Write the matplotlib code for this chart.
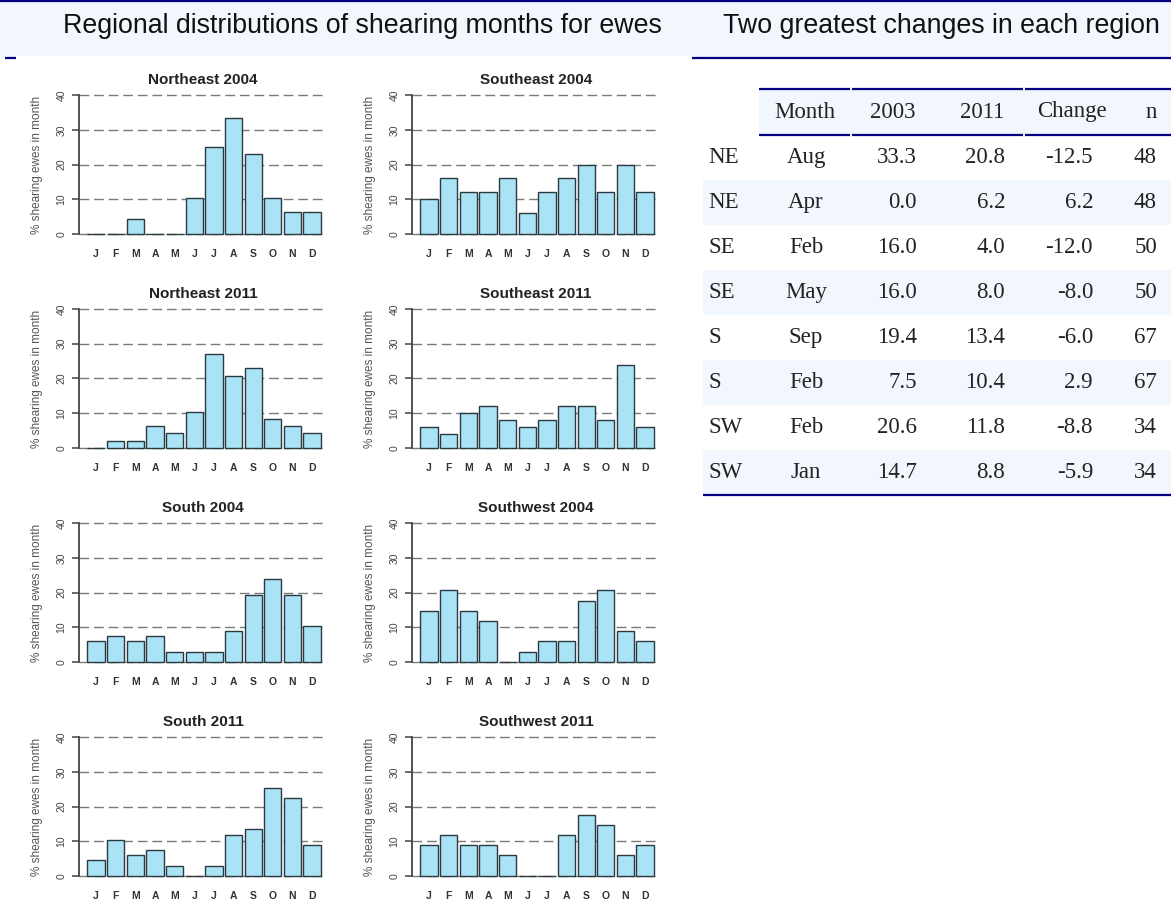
import matplotlib
matplotlib.use('Agg')
import matplotlib.pyplot as plt
from matplotlib.patches import Rectangle

# Data
month_letters = ['J', 'F', 'M', 'A', 'M', 'J', 'J', 'A', 'S', 'O', 'N', 'D']

northeast_2004 = [0, 0, 4.2, 0, 0, 10.4, 25.0, 33.3, 22.9, 10.4, 6.2, 6.2]
southeast_2004 = [10, 16, 12, 12, 16, 6, 12, 16, 20, 12, 20, 12]
northeast_2011 = [0, 2.1, 2.1, 6.2, 4.2, 10.4, 27.1, 20.8, 22.9, 8.3, 6.2, 4.2]
southeast_2011 = [6, 4, 10, 12, 8, 6, 8, 12, 12, 8, 24, 6]
south_2004 = [6.0, 7.5, 6.0, 7.5, 3.0, 3.0, 3.0, 9.0, 19.4, 23.9, 19.4, 10.4]
southwest_2004 = [14.7, 20.6, 14.7, 11.8, 0, 2.9, 5.9, 5.9, 17.6, 20.6, 8.8, 5.9]
south_2011 = [4.5, 10.4, 6.0, 7.5, 3.0, 0, 3.0, 11.9, 13.4, 25.4, 22.4, 9.0]
southwest_2011 = [8.8, 11.8, 8.8, 8.8, 5.9, 0, 0, 11.8, 17.6, 14.7, 5.9, 8.8]

panel_titles = ['Northeast 2004', 'Southeast 2004',
                'Northeast 2011', 'Southeast 2011',
                'South 2004', 'Southwest 2004',
                'South 2011', 'Southwest 2011']
panel_values = [northeast_2004, southeast_2004,
                northeast_2011, southeast_2011,
                south_2004, southwest_2004,
                south_2011, southwest_2011]
y_ticks = [0, 10, 20, 30, 40]

table_cols = ['Month', '2003', '2011', 'Change', 'n']
tbl_region = ['NE', 'NE', 'SE', 'SE', 'S', 'S', 'SW', 'SW']
tbl_month = ['Aug', 'Apr', 'Feb', 'May', 'Sep', 'Feb', 'Feb', 'Jan']
tbl_2003 = [33.3, 0.0, 16.0, 16.0, 19.4, 7.5, 20.6, 14.7]
tbl_2011 = [20.8, 6.2, 4.0, 8.0, 13.4, 10.4, 11.8, 8.8]
tbl_change = [-12.5, 6.2, -12.0, -8.0, -6.0, 2.9, -8.8, -5.9]
tbl_n = [48, 48, 50, 50, 67, 67, 34, 34]

W, H = 1171, 909
navy = '#000080'
band = '#f2f6fd'
bar_color = '#aae3f5'
sans = 'Liberation Sans'
serif = 'Liberation Serif'

fig = plt.figure(figsize=(W / 100, H / 100), dpi=100)

# page layer in pixel coordinates
bg = fig.add_axes([0, 0, 1, 1])
bg.set_xlim(0, W)
bg.set_ylim(H, 0)
bg.axis('off')

# header bands and rules
bg.add_patch(Rectangle((0, 1), W, 57, facecolor=band, edgecolor='none', zorder=1))
bg.plot([0, W], [1, 1], color=navy, lw=1.6, solid_capstyle='butt', zorder=2)
bg.plot([5, W], [58, 58], color=navy, lw=1.6, solid_capstyle='butt', zorder=2)
# white chart picture sits over the left rule
bg.add_patch(Rectangle((16, 56), 676, H - 56, facecolor='white',
                       edgecolor='none', zorder=3))

bg.text(362, 33, 'Regional distributions of shearing months for ewes',
        ha='center', va='baseline', fontsize=19.3, family=sans, color='#111')
bg.text(941, 33, 'Two greatest changes in each region',
        ha='center', va='baseline', fontsize=19.3, family=sans, color='#111')

# table
row_h = 45
head_top, head_bot = 89, 135
bg.add_patch(Rectangle((759, head_top), W - 759, head_bot - head_top,
                       facecolor=band, edgecolor='none', zorder=1))
for x0, x1 in [(759, 850), (852, 1023), (1025, W)]:
    bg.plot([x0, x1], [head_top, head_top], color=navy, lw=1.6, solid_capstyle='butt')
    bg.plot([x0, x1], [head_bot, head_bot], color=navy, lw=1.6, solid_capstyle='butt')

head_x = [805, 893, 982, 1072, 1151]
for label, x in zip(table_cols, head_x):
    bg.text(x, 112, label, ha='center', va='center', fontsize=16.5,
            family=serif, color='#222')

for i in range(len(tbl_region)):
    top = head_bot + i * row_h
    yc = top + row_h / 2
    if i % 2 == 1:
        bg.add_patch(Rectangle((703, top), W - 703, row_h,
                               facecolor=band, edgecolor='none', zorder=4))
    kw = dict(va='center', fontsize=16.5, family=serif, color='#222', zorder=5)
    bg.text(708, yc, tbl_region[i], ha='left', **kw)
    bg.text(806, yc, tbl_month[i], ha='center', **kw)
    bg.text(917, yc, f'{tbl_2003[i]:.1f}', ha='right', **kw)
    bg.text(1005, yc, f'{tbl_2011[i]:.1f}', ha='right', **kw)
    bg.text(1093, yc, f'{tbl_change[i]:.1f}', ha='right', **kw)
    bg.text(1157, yc, f'{tbl_n[i]}', ha='right', **kw)

table_end = head_bot + len(tbl_region) * row_h
bg.plot([703, W], [table_end, table_end], color=navy, lw=1.6,
        solid_capstyle='butt', zorder=5)

# bar chart panels
col_spine = [79, 412]
ax_w = 248
px_per_unit = (234 - 95) / 40
ypad = 1.2
positions = list(range(12))

for k, (title, vals) in enumerate(zip(panel_titles, panel_values)):
    r, c = divmod(k, 2)
    y40 = 95 + 214 * r
    y0 = 234 + 214 * r
    top_px = y40 - ypad * px_per_unit
    bot_px = y0 + ypad * px_per_unit
    ax = fig.add_axes([col_spine[c] / W, 1 - bot_px / H,
                       ax_w / W, (bot_px - top_px) / H])
    ax.set_facecolor('none')
    ax.set_xlim(-0.87, 11.76)
    ax.set_ylim(-ypad, 40 + ypad)

    for yv in y_ticks:
        ax.axhline(yv, color='#7a7a7a', lw=1.0, dashes=(7, 3.5), zorder=1)

    ax.bar(positions, vals, width=0.88, color=bar_color,
           edgecolor='#2b3a40', linewidth=1.0, zorder=2)

    for side in ['top', 'right', 'bottom']:
        ax.spines[side].set_visible(False)
    ax.spines['left'].set_bounds(0, 40)
    ax.spines['left'].set_color('#444')
    ax.spines['left'].set_linewidth(1.3)

    ax.set_yticks(y_ticks)
    ax.set_yticklabels([str(t) for t in y_ticks], rotation=90, va='center',
                       fontsize=7.5, family=sans, color='#444')
    ax.tick_params(axis='y', length=5, width=1.1, color='#444', pad=4)

    ax.set_xticks(positions)
    ax.set_xticklabels(month_letters, fontsize=7.5, family=sans,
                       fontweight='bold', color='#333')
    ax.tick_params(axis='x', length=0, pad=8)

    ax.text(-42 / ax_w, 0.5, '% shearing ewes in month', transform=ax.transAxes,
            rotation=90, ha='center', va='center', fontsize=8.5,
            family=sans, color='#555')
    ax.set_title(title, fontsize=11, fontweight='bold', family=sans,
                 color='#222', pad=5)

fig.savefig('out.png', dpi=100)
